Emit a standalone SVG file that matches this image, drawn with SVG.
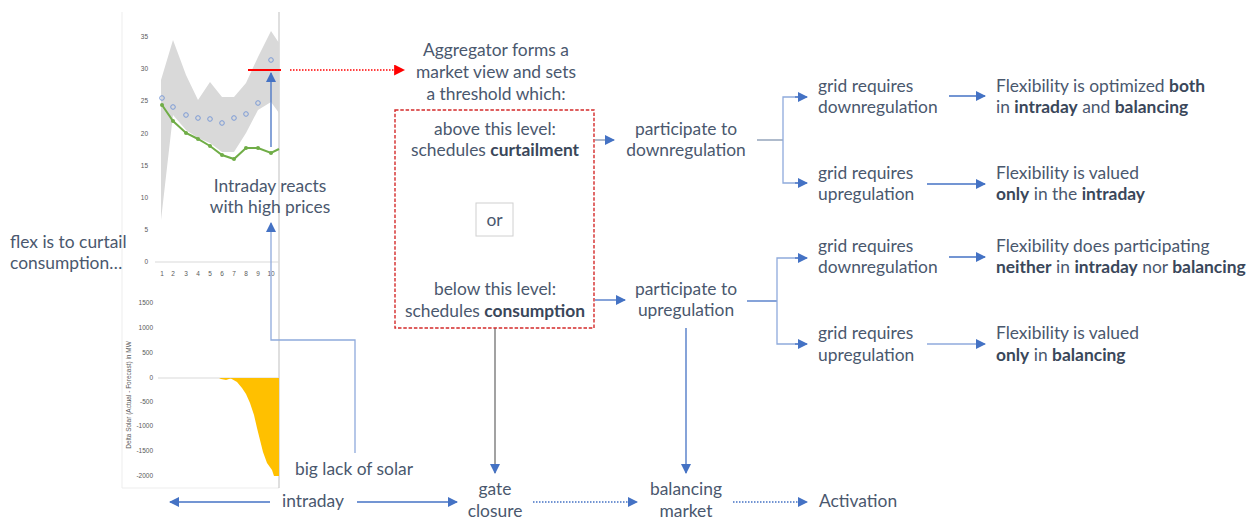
<svg xmlns="http://www.w3.org/2000/svg" width="1258" height="519" viewBox="0 0 1258 519">
<style>
.t{font-family:Lato,"Liberation Sans",sans-serif;font-size:17.4px;fill:#4A586E}
.m{text-anchor:middle}
.b{font-weight:bold;fill:#3A475A}
.ax{font-family:"Liberation Sans",sans-serif;font-size:6.5px;fill:#595959}
.c{fill:none;stroke:#4472C4;stroke-width:1.3}
.cl{fill:none;stroke:#8FAADC;stroke-width:1.3}
.d{fill:none;stroke:#4472C4;stroke-width:1.3;stroke-dasharray:1.5 1.5}
</style>
<defs>
<marker id="ab2" viewBox="0 0 10 10" refX="9" refY="5" markerWidth="10" markerHeight="10" orient="auto" markerUnits="userSpaceOnUse"><path d="M0,0L10,5L0,10z" fill="#4472C4"/></marker>
<marker id="ar" viewBox="0 0 10 10" refX="9" refY="5" markerWidth="11" markerHeight="11" orient="auto" markerUnits="userSpaceOnUse"><path d="M0,0L10,5L0,10z" fill="#FF0000"/></marker>
</defs>
<rect width="1258" height="519" fill="#fff"/>

<g id="charts">
<line x1="122" y1="12" x2="122" y2="488" stroke="#EDEDED"/>
<line x1="122" y1="488" x2="279" y2="488" stroke="#EDEDED"/>
<line x1="279" y1="12" x2="279" y2="488" stroke="#BFBFBF"/>
<polygon points="161,80 173,40 186,75 198,100 210,82 222,97 234,97 246,83 258,57 271,31 279,43 279,113 271,102 258,110 246,133 234,152 222,152 210,143 198,138 186,130 173,115 161,220" fill="#D9D9D9"/>
<line x1="155" y1="262" x2="279" y2="262" stroke="#D9D9D9"/>
<g class="ax" text-anchor="end">
<text x="148" y="39">35</text><text x="148" y="71">30</text><text x="148" y="103">25</text><text x="148" y="136">20</text><text x="148" y="168">15</text><text x="148" y="200">10</text><text x="148" y="232">5</text><text x="148" y="264">0</text>
</g>
<g class="ax" text-anchor="middle">
<text x="162" y="276">1</text><text x="173" y="276">2</text><text x="186" y="276">3</text><text x="198" y="276">4</text><text x="210" y="276">5</text><text x="222" y="276">6</text><text x="234" y="276">7</text><text x="246" y="276">8</text><text x="258" y="276">9</text><text x="271" y="276">10</text>
</g>
<g fill="none" stroke="#7C9BD6" stroke-width="1">
<circle cx="162" cy="98" r="2.3"/><circle cx="173" cy="107" r="2.3"/><circle cx="186" cy="115" r="2.3"/><circle cx="198" cy="118" r="2.3"/><circle cx="210" cy="119" r="2.3"/><circle cx="222" cy="123" r="2.3"/><circle cx="234" cy="118" r="2.3"/><circle cx="246" cy="114" r="2.3"/><circle cx="258" cy="103" r="2.3"/><circle cx="271" cy="60" r="2.3"/>
</g>
<polyline points="162,105 173,121 186,133 198,139 210,146 222,155 234,159 246,148 258,148 271,153 279,149" fill="none" stroke="#70AD47" stroke-width="2"/>
<g fill="#70AD47">
<circle cx="162" cy="105" r="2"/><circle cx="173" cy="121" r="2"/><circle cx="186" cy="133" r="2"/><circle cx="198" cy="139" r="2"/><circle cx="210" cy="146" r="2"/><circle cx="222" cy="155" r="2"/><circle cx="234" cy="159" r="2"/><circle cx="246" cy="148" r="2"/><circle cx="258" cy="148" r="2"/><circle cx="271" cy="153" r="2"/>
</g>
<line x1="248" y1="70" x2="281" y2="70" stroke="#FF0000" stroke-width="2"/>
<line x1="158" y1="378" x2="279" y2="378" stroke="#D9D9D9"/>
<path d="M219,378 L232,378 L226,380 L221,379 Z" fill="#FFC000"/>
<path d="M230,378 L279,378 L279,476 L274,476 L272,470 L267,463 L263,452 L260,440 L257,428 L254,415 L250,403 L246,394 L242,388 L237,382 Z" fill="#FFC000"/>
<g class="ax" text-anchor="end">
<text x="153" y="305">1500</text><text x="153" y="330">1000</text><text x="153" y="355">500</text><text x="153" y="380">0</text><text x="153" y="404">-500</text><text x="153" y="428">-1000</text><text x="153" y="453">-1500</text><text x="153" y="478">-2000</text>
</g>
<text class="ax" transform="translate(131,395) rotate(-90)" text-anchor="middle">Delta Solar (Actual - Forecast) in MW</text>
</g>

<g id="connectors">
<line x1="271" y1="147" x2="271" y2="73" class="c" marker-end="url(#ab2)"/>
<line x1="290" y1="70" x2="404" y2="70" stroke="#FF0000" stroke-width="1.3" stroke-dasharray="1.5 1.5" marker-end="url(#ar)"/>
<polyline points="355,453 355,340 271,340 271,223" class="cl" marker-end="url(#ab2)"/>
<line x1="595" y1="140" x2="614" y2="140" stroke="#8497B0" stroke-width="1.3" marker-end="url(#ab2)"/>
<line x1="757" y1="140" x2="783" y2="140" stroke="#8497B0" stroke-width="1.3"/>
<polyline points="806,97 783,97 783,183 806,183" class="cl" stroke="#7F9BD0"/>
<line x1="795" y1="97" x2="807" y2="97" class="c" marker-end="url(#ab2)"/>
<line x1="795" y1="183" x2="807" y2="183" class="c" marker-end="url(#ab2)"/>
<line x1="949" y1="96" x2="985" y2="96" class="c" marker-end="url(#ab2)"/>
<line x1="927" y1="184" x2="985" y2="184" class="c" marker-end="url(#ab2)"/>
<line x1="595" y1="300" x2="625" y2="300" class="c" marker-end="url(#ab2)"/>
<line x1="747" y1="301" x2="777" y2="301" class="c"/>
<polyline points="806,258 777,258 777,344 806,344" class="cl" stroke="#7F9BD0"/>
<line x1="795" y1="258" x2="807" y2="258" class="c" marker-end="url(#ab2)"/>
<line x1="795" y1="344" x2="807" y2="344" class="c" marker-end="url(#ab2)"/>
<line x1="949" y1="257" x2="985" y2="257" class="c" marker-end="url(#ab2)"/>
<line x1="927" y1="344" x2="985" y2="344" class="cl" marker-end="url(#ab2)"/>
<line x1="686" y1="328" x2="686" y2="473" class="c" marker-end="url(#ab2)"/>
<line x1="495" y1="328" x2="495" y2="473" stroke="#707070" stroke-width="1.3" marker-end="url(#ab2)"/>
<line x1="270" y1="502" x2="170" y2="502" class="c" marker-end="url(#ab2)"/>
<line x1="357" y1="502" x2="457" y2="502" class="c" marker-end="url(#ab2)"/>
<line x1="533" y1="502" x2="637" y2="502" class="d" marker-end="url(#ab2)"/>
<line x1="733" y1="502" x2="807" y2="502" class="d" marker-end="url(#ab2)"/>
</g>

<g id="intraday-reacts"><text class="t m" x="270" y="192">Intraday reacts</text><text class="t m" x="270" y="213">with high prices</text></g>
<g id="flex"><text class="t" x="10" y="248">flex is to curtail</text><text class="t" x="10" y="269">consumption…</text></g>
<g id="big-lack"><text class="t m" x="354" y="475">big lack of solar</text></g>
<g id="aggregator"><text class="t m" x="496" y="56">Aggregator forms a</text><text class="t m" x="496" y="78">market view and sets</text><text class="t m" x="496" y="100">a threshold which:</text></g>
<g id="threshold-box">
<rect x="395" y="110" width="199" height="218" fill="none" stroke="#D42A2A" stroke-width="1.4" stroke-dasharray="3.5 1.8"/>
<text class="t m" x="495" y="135">above this level:</text>
<text class="t m" x="495" y="156">schedules <tspan class="b">curtailment</tspan></text>
<text class="t m" x="495" y="295">below this level:</text>
<text class="t m" x="495" y="317">schedules <tspan class="b">consumption</tspan></text>
</g>
<g id="or"><rect x="476" y="203" width="37" height="33" fill="#fff" stroke="#D0D0D0"/><text class="t m" x="494.5" y="226">or</text></g>
<g id="part-down"><text class="t m" x="686" y="135">participate to</text><text class="t m" x="686" y="156">downregulation</text></g>
<g id="part-up"><text class="t m" x="686" y="295">participate to</text><text class="t m" x="686" y="316">upregulation</text></g>
<g id="g1"><text class="t" x="818" y="92">grid requires</text><text class="t" x="818" y="113">downregulation</text></g>
<g id="g2"><text class="t" x="818" y="179">grid requires</text><text class="t" x="818" y="200">upregulation</text></g>
<g id="g3"><text class="t" x="818" y="252">grid requires</text><text class="t" x="818" y="273">downregulation</text></g>
<g id="g4"><text class="t" x="818" y="339">grid requires</text><text class="t" x="818" y="361">upregulation</text></g>
<g id="r1"><text class="t" x="996" y="92">Flexibility is optimized <tspan class="b">both</tspan></text><text class="t" x="996" y="113">in <tspan class="b">intraday</tspan> and <tspan class="b">balancing</tspan></text></g>
<g id="r2"><text class="t" x="996" y="179">Flexibility is valued</text><text class="t" x="996" y="200"><tspan class="b">only</tspan> in the <tspan class="b">intraday</tspan></text></g>
<g id="r3"><text class="t" x="996" y="252">Flexibility does participating</text><text class="t" x="996" y="273"><tspan class="b">neither</tspan> in <tspan class="b">intraday</tspan> nor <tspan class="b">balancing</tspan></text></g>
<g id="r4"><text class="t" x="996" y="339">Flexibility is valued</text><text class="t" x="996" y="361"><tspan class="b">only</tspan> in <tspan class="b">balancing</tspan></text></g>
<g id="intraday"><text class="t m" x="313" y="507">intraday</text></g>
<g id="gate"><text class="t m" x="495" y="495">gate</text><text class="t m" x="495" y="517">closure</text></g>
<g id="balancing"><text class="t m" x="686" y="495">balancing</text><text class="t m" x="686" y="517">market</text></g>
<g id="activation"><text class="t" x="819" y="507">Activation</text></g>
</svg>
